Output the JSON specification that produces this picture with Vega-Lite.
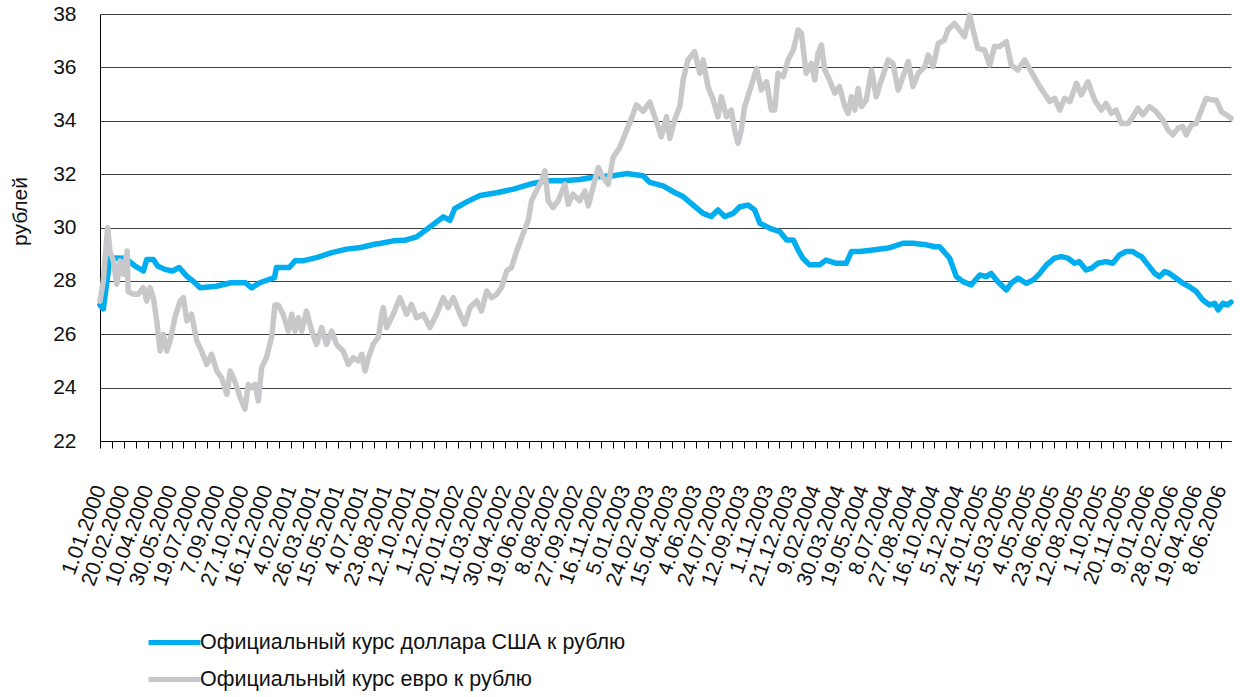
{
  "$schema": "https://vega.github.io/schema/vega-lite/v6.json",
  "autosize": {"type": "none"},
  "width": 1131,
  "height": 427,
  "padding": {"left": 100, "top": 14, "right": 9, "bottom": 256},
  "background": "white",
  "config": {
    "view": {"stroke": null},
    "font": "Liberation Sans",
    "axis": {"labelFont": "Liberation Sans", "titleFont": "Liberation Sans", "labelColor": "#111", "titleColor": "#111"},
    "legend": {"labelFont": "Liberation Sans"}
  },
  "datasets": {
    "usd": [
      {"date": "2000-01-01", "rate": 27.1}, {"date": "2000-01-08", "rate": 26.95}, {"date": "2000-01-22", "rate": 28.85},
      {"date": "2000-02-01", "rate": 28.86}, {"date": "2000-02-26", "rate": 28.85}, {"date": "2000-03-01", "rate": 28.75},
      {"date": "2000-03-14", "rate": 28.56}, {"date": "2000-04-01", "rate": 28.37}, {"date": "2000-04-08", "rate": 28.8},
      {"date": "2000-04-22", "rate": 28.8}, {"date": "2000-05-01", "rate": 28.56}, {"date": "2000-05-16", "rate": 28.43},
      {"date": "2000-06-01", "rate": 28.37}, {"date": "2000-06-15", "rate": 28.5}, {"date": "2000-07-01", "rate": 28.18},
      {"date": "2000-07-18", "rate": 27.93}, {"date": "2000-07-29", "rate": 27.74}, {"date": "2000-09-01", "rate": 27.8},
      {"date": "2000-10-01", "rate": 27.93}, {"date": "2000-11-01", "rate": 27.93}, {"date": "2000-11-14", "rate": 27.74},
      {"date": "2000-12-01", "rate": 27.93}, {"date": "2001-01-01", "rate": 28.12}, {"date": "2001-01-05", "rate": 28.5},
      {"date": "2001-02-01", "rate": 28.5}, {"date": "2001-02-13", "rate": 28.75}, {"date": "2001-03-01", "rate": 28.75},
      {"date": "2001-04-01", "rate": 28.88}, {"date": "2001-05-01", "rate": 29.06}, {"date": "2001-06-01", "rate": 29.19},
      {"date": "2001-07-01", "rate": 29.25}, {"date": "2001-08-01", "rate": 29.38}, {"date": "2001-08-10", "rate": 29.4},
      {"date": "2001-09-07", "rate": 29.5}, {"date": "2001-10-01", "rate": 29.52}, {"date": "2001-10-26", "rate": 29.65},
      {"date": "2001-11-23", "rate": 30.02}, {"date": "2001-12-21", "rate": 30.4}, {"date": "2002-01-04", "rate": 30.27},
      {"date": "2002-01-14", "rate": 30.71}, {"date": "2002-02-08", "rate": 30.96}, {"date": "2002-03-08", "rate": 31.2},
      {"date": "2002-04-12", "rate": 31.3}, {"date": "2002-05-17", "rate": 31.44}, {"date": "2002-06-20", "rate": 31.62},
      {"date": "2002-07-25", "rate": 31.75}, {"date": "2002-08-29", "rate": 31.75}, {"date": "2002-10-03", "rate": 31.8},
      {"date": "2002-11-07", "rate": 31.9}, {"date": "2002-12-12", "rate": 31.94}, {"date": "2003-01-09", "rate": 32.02},
      {"date": "2003-02-13", "rate": 31.94}, {"date": "2003-02-27", "rate": 31.69}, {"date": "2003-03-27", "rate": 31.56},
      {"date": "2003-04-17", "rate": 31.34}, {"date": "2003-05-08", "rate": 31.16}, {"date": "2003-05-29", "rate": 30.84},
      {"date": "2003-06-19", "rate": 30.53}, {"date": "2003-07-06", "rate": 30.41}, {"date": "2003-07-20", "rate": 30.66},
      {"date": "2003-08-03", "rate": 30.41}, {"date": "2003-08-21", "rate": 30.53}, {"date": "2003-09-04", "rate": 30.78},
      {"date": "2003-09-21", "rate": 30.84}, {"date": "2003-10-05", "rate": 30.66}, {"date": "2003-10-16", "rate": 30.16},
      {"date": "2003-11-06", "rate": 29.97}, {"date": "2003-11-27", "rate": 29.84}, {"date": "2003-12-11", "rate": 29.53},
      {"date": "2003-12-25", "rate": 29.53}, {"date": "2004-01-04", "rate": 29.16}, {"date": "2004-01-14", "rate": 28.85},
      {"date": "2004-01-28", "rate": 28.6}, {"date": "2004-02-18", "rate": 28.6}, {"date": "2004-03-03", "rate": 28.78},
      {"date": "2004-03-24", "rate": 28.66}, {"date": "2004-04-14", "rate": 28.66}, {"date": "2004-04-25", "rate": 29.1},
      {"date": "2004-05-12", "rate": 29.1}, {"date": "2004-06-09", "rate": 29.16}, {"date": "2004-07-07", "rate": 29.22},
      {"date": "2004-07-21", "rate": 29.28}, {"date": "2004-08-11", "rate": 29.41}, {"date": "2004-09-01", "rate": 29.41},
      {"date": "2004-09-29", "rate": 29.35}, {"date": "2004-10-17", "rate": 29.28}, {"date": "2004-10-27", "rate": 29.28},
      {"date": "2004-11-17", "rate": 28.85}, {"date": "2004-12-01", "rate": 28.16}, {"date": "2004-12-15", "rate": 27.97},
      {"date": "2005-01-01", "rate": 27.85}, {"date": "2005-01-19", "rate": 28.22}, {"date": "2005-02-02", "rate": 28.16},
      {"date": "2005-02-12", "rate": 28.28}, {"date": "2005-02-26", "rate": 27.97}, {"date": "2005-03-16", "rate": 27.66},
      {"date": "2005-03-26", "rate": 27.91}, {"date": "2005-04-09", "rate": 28.1}, {"date": "2005-04-27", "rate": 27.91},
      {"date": "2005-05-11", "rate": 28.03}, {"date": "2005-05-25", "rate": 28.28}, {"date": "2005-06-08", "rate": 28.6},
      {"date": "2005-06-25", "rate": 28.85}, {"date": "2005-07-09", "rate": 28.91}, {"date": "2005-07-23", "rate": 28.85},
      {"date": "2005-08-06", "rate": 28.66}, {"date": "2005-08-16", "rate": 28.72}, {"date": "2005-08-30", "rate": 28.41},
      {"date": "2005-09-10", "rate": 28.47}, {"date": "2005-09-24", "rate": 28.66}, {"date": "2005-10-11", "rate": 28.72},
      {"date": "2005-10-25", "rate": 28.66}, {"date": "2005-11-08", "rate": 28.97}, {"date": "2005-11-22", "rate": 29.1},
      {"date": "2005-12-06", "rate": 29.1}, {"date": "2005-12-17", "rate": 28.97}, {"date": "2005-12-24", "rate": 28.91},
      {"date": "2006-01-07", "rate": 28.6}, {"date": "2006-01-21", "rate": 28.28}, {"date": "2006-01-31", "rate": 28.16},
      {"date": "2006-02-11", "rate": 28.35}, {"date": "2006-02-21", "rate": 28.28}, {"date": "2006-03-07", "rate": 28.1},
      {"date": "2006-03-21", "rate": 27.91}, {"date": "2006-04-04", "rate": 27.78}, {"date": "2006-04-18", "rate": 27.6},
      {"date": "2006-05-02", "rate": 27.28}, {"date": "2006-05-16", "rate": 27.1}, {"date": "2006-05-27", "rate": 27.16},
      {"date": "2006-06-03", "rate": 26.91}, {"date": "2006-06-13", "rate": 27.16}, {"date": "2006-06-23", "rate": 27.1},
      {"date": "2006-06-30", "rate": 27.2}
    ],
    "eur": [
      {"date": "2000-01-01", "rate": 27.24}, {"date": "2000-01-08", "rate": 28.0}, {"date": "2000-01-17", "rate": 30.0},
      {"date": "2000-01-22", "rate": 29.1}, {"date": "2000-01-29", "rate": 28.75}, {"date": "2000-02-05", "rate": 27.87},
      {"date": "2000-02-12", "rate": 28.75}, {"date": "2000-02-19", "rate": 28.25}, {"date": "2000-02-27", "rate": 29.12},
      {"date": "2000-02-29", "rate": 27.6}, {"date": "2000-03-11", "rate": 27.5}, {"date": "2000-03-21", "rate": 27.5},
      {"date": "2000-04-01", "rate": 27.75}, {"date": "2000-04-08", "rate": 27.24}, {"date": "2000-04-15", "rate": 27.75},
      {"date": "2000-04-22", "rate": 27.36}, {"date": "2000-04-29", "rate": 26.5}, {"date": "2000-05-06", "rate": 25.37},
      {"date": "2000-05-13", "rate": 26.0}, {"date": "2000-05-20", "rate": 25.37}, {"date": "2000-05-27", "rate": 25.75},
      {"date": "2000-06-06", "rate": 26.62}, {"date": "2000-06-17", "rate": 27.24}, {"date": "2000-06-24", "rate": 27.37},
      {"date": "2000-07-01", "rate": 26.5}, {"date": "2000-07-11", "rate": 26.75}, {"date": "2000-07-22", "rate": 25.75},
      {"date": "2000-08-01", "rate": 25.37}, {"date": "2000-08-12", "rate": 24.87}, {"date": "2000-08-22", "rate": 25.25},
      {"date": "2000-09-02", "rate": 24.62}, {"date": "2000-09-12", "rate": 24.37}, {"date": "2000-09-23", "rate": 23.75},
      {"date": "2000-09-30", "rate": 24.62}, {"date": "2000-10-10", "rate": 24.24}, {"date": "2000-10-21", "rate": 23.62},
      {"date": "2000-10-31", "rate": 23.19}, {"date": "2000-11-07", "rate": 24.12}, {"date": "2000-11-14", "rate": 24.0},
      {"date": "2000-11-21", "rate": 24.12}, {"date": "2000-11-28", "rate": 23.5}, {"date": "2000-12-05", "rate": 24.75},
      {"date": "2000-12-15", "rate": 25.12}, {"date": "2000-12-26", "rate": 25.9}, {"date": "2001-01-02", "rate": 27.1},
      {"date": "2001-01-09", "rate": 27.1}, {"date": "2001-01-19", "rate": 26.75}, {"date": "2001-01-30", "rate": 26.12},
      {"date": "2001-02-06", "rate": 26.75}, {"date": "2001-02-13", "rate": 26.12}, {"date": "2001-02-20", "rate": 26.62},
      {"date": "2001-02-27", "rate": 26.12}, {"date": "2001-03-09", "rate": 26.87}, {"date": "2001-03-20", "rate": 26.12},
      {"date": "2001-03-30", "rate": 25.62}, {"date": "2001-04-10", "rate": 26.25}, {"date": "2001-04-20", "rate": 25.62},
      {"date": "2001-05-01", "rate": 26.12}, {"date": "2001-05-11", "rate": 25.62}, {"date": "2001-05-25", "rate": 25.37},
      {"date": "2001-06-05", "rate": 24.87}, {"date": "2001-06-15", "rate": 25.12}, {"date": "2001-06-26", "rate": 25.0},
      {"date": "2001-07-03", "rate": 25.25}, {"date": "2001-07-10", "rate": 24.62}, {"date": "2001-07-17", "rate": 25.12},
      {"date": "2001-07-27", "rate": 25.62}, {"date": "2001-08-07", "rate": 25.9}, {"date": "2001-08-14", "rate": 26.75},
      {"date": "2001-08-17", "rate": 27.0}, {"date": "2001-08-24", "rate": 26.25}, {"date": "2001-09-07", "rate": 26.75},
      {"date": "2001-09-21", "rate": 27.37}, {"date": "2001-10-05", "rate": 26.75}, {"date": "2001-10-15", "rate": 27.12},
      {"date": "2001-10-26", "rate": 26.62}, {"date": "2001-11-09", "rate": 26.75}, {"date": "2001-11-23", "rate": 26.25},
      {"date": "2001-12-07", "rate": 26.75}, {"date": "2001-12-21", "rate": 27.37}, {"date": "2001-12-31", "rate": 27.0},
      {"date": "2002-01-11", "rate": 27.37}, {"date": "2002-01-25", "rate": 26.75}, {"date": "2002-02-04", "rate": 26.37},
      {"date": "2002-02-15", "rate": 27.0}, {"date": "2002-03-01", "rate": 27.25}, {"date": "2002-03-11", "rate": 26.87},
      {"date": "2002-03-22", "rate": 27.62}, {"date": "2002-04-01", "rate": 27.37}, {"date": "2002-04-12", "rate": 27.5},
      {"date": "2002-04-22", "rate": 27.75}, {"date": "2002-05-03", "rate": 28.37}, {"date": "2002-05-13", "rate": 28.5},
      {"date": "2002-05-24", "rate": 29.12}, {"date": "2002-06-06", "rate": 29.75}, {"date": "2002-06-17", "rate": 30.25},
      {"date": "2002-06-24", "rate": 31.0}, {"date": "2002-07-04", "rate": 31.37}, {"date": "2002-07-15", "rate": 31.75},
      {"date": "2002-07-22", "rate": 32.12}, {"date": "2002-07-29", "rate": 31.0}, {"date": "2002-08-08", "rate": 30.75},
      {"date": "2002-08-19", "rate": 31.0}, {"date": "2002-09-02", "rate": 31.62}, {"date": "2002-09-09", "rate": 30.87},
      {"date": "2002-09-19", "rate": 31.25}, {"date": "2002-10-03", "rate": 31.0}, {"date": "2002-10-14", "rate": 31.37},
      {"date": "2002-10-21", "rate": 30.81}, {"date": "2002-10-31", "rate": 31.5}, {"date": "2002-11-11", "rate": 32.25},
      {"date": "2002-11-21", "rate": 31.87}, {"date": "2002-12-02", "rate": 31.62}, {"date": "2002-12-12", "rate": 32.62},
      {"date": "2002-12-26", "rate": 33.0}, {"date": "2003-01-09", "rate": 33.62}, {"date": "2003-01-20", "rate": 34.1},
      {"date": "2003-01-30", "rate": 34.6}, {"date": "2003-02-13", "rate": 34.35}, {"date": "2003-02-27", "rate": 34.7},
      {"date": "2003-03-13", "rate": 33.97}, {"date": "2003-03-23", "rate": 33.4}, {"date": "2003-04-03", "rate": 34.15},
      {"date": "2003-04-10", "rate": 33.34}, {"date": "2003-04-20", "rate": 34.03}, {"date": "2003-05-01", "rate": 34.53},
      {"date": "2003-05-08", "rate": 35.53}, {"date": "2003-05-18", "rate": 36.28}, {"date": "2003-06-01", "rate": 36.59},
      {"date": "2003-06-12", "rate": 35.78}, {"date": "2003-06-19", "rate": 36.28}, {"date": "2003-06-29", "rate": 35.28},
      {"date": "2003-07-10", "rate": 34.78}, {"date": "2003-07-20", "rate": 34.15}, {"date": "2003-07-27", "rate": 34.9},
      {"date": "2003-08-07", "rate": 34.15}, {"date": "2003-08-17", "rate": 34.4}, {"date": "2003-08-24", "rate": 33.65},
      {"date": "2003-08-31", "rate": 33.15}, {"date": "2003-09-07", "rate": 33.65}, {"date": "2003-09-14", "rate": 34.53},
      {"date": "2003-09-25", "rate": 35.15}, {"date": "2003-10-09", "rate": 35.96}, {"date": "2003-10-19", "rate": 35.15},
      {"date": "2003-10-30", "rate": 35.46}, {"date": "2003-11-09", "rate": 34.4}, {"date": "2003-11-16", "rate": 34.4},
      {"date": "2003-11-23", "rate": 35.78}, {"date": "2003-12-04", "rate": 35.65}, {"date": "2003-12-14", "rate": 36.28},
      {"date": "2003-12-25", "rate": 36.65}, {"date": "2004-01-04", "rate": 37.4}, {"date": "2004-01-11", "rate": 37.28},
      {"date": "2004-01-21", "rate": 35.78}, {"date": "2004-02-01", "rate": 36.15}, {"date": "2004-02-08", "rate": 35.53},
      {"date": "2004-02-15", "rate": 36.53}, {"date": "2004-02-22", "rate": 36.84}, {"date": "2004-02-29", "rate": 35.9},
      {"date": "2004-03-10", "rate": 35.53}, {"date": "2004-03-21", "rate": 35.03}, {"date": "2004-03-31", "rate": 35.28},
      {"date": "2004-04-11", "rate": 34.53}, {"date": "2004-04-18", "rate": 34.28}, {"date": "2004-04-25", "rate": 34.9},
      {"date": "2004-05-02", "rate": 34.4}, {"date": "2004-05-09", "rate": 35.21}, {"date": "2004-05-16", "rate": 34.53},
      {"date": "2004-05-26", "rate": 34.78}, {"date": "2004-06-06", "rate": 35.9}, {"date": "2004-06-16", "rate": 34.9},
      {"date": "2004-06-27", "rate": 35.53}, {"date": "2004-07-11", "rate": 36.28}, {"date": "2004-07-21", "rate": 36.15},
      {"date": "2004-08-01", "rate": 35.15}, {"date": "2004-08-11", "rate": 35.65}, {"date": "2004-08-22", "rate": 36.22},
      {"date": "2004-09-01", "rate": 35.28}, {"date": "2004-09-12", "rate": 35.78}, {"date": "2004-09-26", "rate": 36.03},
      {"date": "2004-10-03", "rate": 36.46}, {"date": "2004-10-13", "rate": 36.03}, {"date": "2004-10-24", "rate": 36.9},
      {"date": "2004-11-06", "rate": 37.03}, {"date": "2004-11-13", "rate": 37.4}, {"date": "2004-11-27", "rate": 37.65},
      {"date": "2004-12-08", "rate": 37.4}, {"date": "2004-12-18", "rate": 37.15}, {"date": "2004-12-29", "rate": 37.96},
      {"date": "2005-01-05", "rate": 37.4}, {"date": "2005-01-15", "rate": 36.71}, {"date": "2005-01-29", "rate": 36.65},
      {"date": "2005-02-09", "rate": 36.09}, {"date": "2005-02-19", "rate": 36.78}, {"date": "2005-03-02", "rate": 36.78},
      {"date": "2005-03-16", "rate": 36.96}, {"date": "2005-03-26", "rate": 36.09}, {"date": "2005-04-09", "rate": 35.9},
      {"date": "2005-04-23", "rate": 36.28}, {"date": "2005-05-07", "rate": 35.84}, {"date": "2005-05-21", "rate": 35.4},
      {"date": "2005-06-01", "rate": 35.09}, {"date": "2005-06-15", "rate": 34.72}, {"date": "2005-06-25", "rate": 34.84},
      {"date": "2005-07-06", "rate": 34.4}, {"date": "2005-07-16", "rate": 34.84}, {"date": "2005-07-27", "rate": 34.72},
      {"date": "2005-08-10", "rate": 35.4}, {"date": "2005-08-20", "rate": 34.97}, {"date": "2005-09-03", "rate": 35.46},
      {"date": "2005-09-17", "rate": 34.78}, {"date": "2005-10-01", "rate": 34.4}, {"date": "2005-10-11", "rate": 34.65},
      {"date": "2005-10-22", "rate": 34.28}, {"date": "2005-11-01", "rate": 34.4}, {"date": "2005-11-12", "rate": 33.9},
      {"date": "2005-11-26", "rate": 33.9}, {"date": "2005-12-06", "rate": 34.15}, {"date": "2005-12-17", "rate": 34.47},
      {"date": "2005-12-27", "rate": 34.22}, {"date": "2006-01-10", "rate": 34.53}, {"date": "2006-01-24", "rate": 34.34},
      {"date": "2006-02-07", "rate": 34.03}, {"date": "2006-02-18", "rate": 33.65}, {"date": "2006-02-28", "rate": 33.47},
      {"date": "2006-03-11", "rate": 33.72}, {"date": "2006-03-21", "rate": 33.78}, {"date": "2006-03-28", "rate": 33.47},
      {"date": "2006-04-08", "rate": 33.84}, {"date": "2006-04-18", "rate": 33.9}, {"date": "2006-04-29", "rate": 34.4},
      {"date": "2006-05-09", "rate": 34.84}, {"date": "2006-05-20", "rate": 34.78}, {"date": "2006-05-30", "rate": 34.78},
      {"date": "2006-06-10", "rate": 34.34}, {"date": "2006-06-20", "rate": 34.22}, {"date": "2006-06-30", "rate": 34.09}
    ]
  },
  "encoding": {
    "x": {
      "field": "date", "type": "temporal",
      "scale": {"type": "utc", "domain": [946684800000, 1151625600000]},
      "axis": {
        "title": null,
        "grid": false,
        "values": [946684800000, 948844800000, 951004800000, 953164800000, 955324800000, 957484800000, 959644800000, 961804800000, 963964800000, 966124800000, 968284800000, 970444800000, 972604800000, 974764800000, 976924800000, 979084800000, 981244800000, 983404800000, 985564800000, 987724800000, 989884800000, 992044800000, 994204800000, 996364800000, 998524800000, 1000684800000, 1002844800000, 1005004800000, 1007164800000, 1009324800000, 1011484800000, 1013644800000, 1015804800000, 1017964800000, 1020124800000, 1022284800000, 1024444800000, 1026604800000, 1028764800000, 1030924800000, 1033084800000, 1035244800000, 1037404800000, 1039564800000, 1041724800000, 1043884800000, 1046044800000, 1048204800000, 1050364800000, 1052524800000, 1054684800000, 1056844800000, 1059004800000, 1061164800000, 1063324800000, 1065484800000, 1067644800000, 1069804800000, 1071964800000, 1074124800000, 1076284800000, 1078444800000, 1080604800000, 1082764800000, 1084924800000, 1087084800000, 1089244800000, 1091404800000, 1093564800000, 1095724800000, 1097884800000, 1100044800000, 1102204800000, 1104364800000, 1106524800000, 1108684800000, 1110844800000, 1113004800000, 1115164800000, 1117324800000, 1119484800000, 1121644800000, 1123804800000, 1125964800000, 1128124800000, 1130284800000, 1132444800000, 1134604800000, 1136764800000, 1138924800000, 1141084800000, 1143244800000, 1145404800000, 1147564800000, 1149724800000],
        "labelExpr": "round((datum.value - 946684800000) / 2160000000) % 2 == 0 ? utcFormat(datum.value, '%-d.%m.%Y') : ''",
        "labelAngle": -70,
        "labelFontSize": 21,
        "labelPadding": 38,
        "labelOverlap": false,
        "labelBound": false,
        "labelFlush": false,
        "tickSize": 7,
        "tickColor": "#000",
        "tickWidth": 1,
        "domainColor": "#000",
        "domainWidth": 1
      }
    },
    "y": {
      "field": "rate", "type": "quantitative",
      "scale": {"domain": [22, 38], "nice": false, "zero": false},
      "axis": {
        "title": "рублей",
        "values": [22, 24, 26, 28, 30, 32, 34, 36, 38],
        "grid": true,
        "gridColor": "#404040",
        "gridWidth": 1,
        "ticks": false,
        "domainColor": "#000",
        "labelFontSize": 21,
        "labelPadding": 24,
        "titleFontSize": 21,
        "titleFontWeight": "normal",
        "titleAngle": -90,
        "titleX": -80,
        "titleY": 197,
        "titleAlign": "center",
        "titleBaseline": "middle"
      }
    },
    "color": {
      "type": "nominal",
      "scale": {
        "domain": ["Официальный курс доллара США к рублю", "Официальный курс евро к рублю"],
        "range": ["#00AEEF", "#C8C8CA"]
      },
      "legend": {
        "title": null,
        "orient": "none",
        "legendX": 59,
        "legendY": 613,
        "direction": "vertical",
        "symbolType": "M-2,0H2",
        "symbolSize": 676,
        "symbolStrokeWidth": 5,
        "labelFontSize": 21.5,
        "labelOffset": 10,
        "labelLimit": 0,
        "rowPadding": 11,
        "padding": 0,
        "labelColor": "#111"
      }
    }
  },
  "layer": [
    {
      "data": {"name": "usd"},
      "mark": {"type": "line", "strokeWidth": 5.5, "strokeJoin": "round", "strokeCap": "round"},
      "encoding": {"color": {"datum": "Официальный курс доллара США к рублю"}}
    },
    {
      "data": {"name": "eur"},
      "mark": {"type": "line", "strokeWidth": 5.5, "strokeJoin": "round", "strokeCap": "round"},
      "encoding": {"color": {"datum": "Официальный курс евро к рублю"}}
    }
  ]
}
